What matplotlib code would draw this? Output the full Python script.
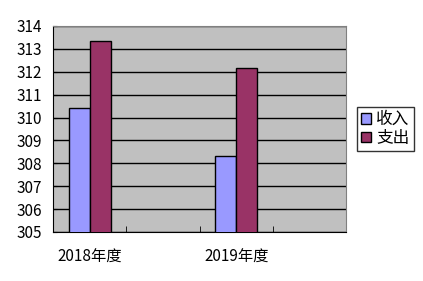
import numpy as np
import matplotlib
matplotlib.use("Agg")
import matplotlib.pyplot as plt

plt.rcParams['font.family'] = ['Noto Sans CJK SC', 'DejaVu Sans']

# Data
#-----------------------------------
categories = ['2018年度', '', '2019年度', '']
series_names = ['收入', '支出']
income = [310.4, np.nan, 308.3, np.nan]
expense = [313.33, np.nan, 312.17, np.nan]
colors = ['#9999FF', '#993366']
y_ticks = list(range(305, 315))

fig = plt.figure(figsize=(4.23, 2.81), dpi=100)
ax = fig.add_axes([53/423, 1-232/281, (346-53)/423, (232-26)/281])
ax.set_facecolor('#C0C0C0')

x = np.arange(len(categories))
w = 21/73.3
ax.bar(x - w/2, income, w, color=colors[0], edgecolor='black', linewidth=1, label=series_names[0], zorder=3)
ax.bar(x + w/2, expense, w, color=colors[1], edgecolor='black', linewidth=1, label=series_names[1], zorder=3)

ax.set_xlim(-0.5, len(categories) - 0.5)
ax.set_ylim(305, 314)
ax.set_yticks(y_ticks)
ax.set_yticklabels([str(v) for v in y_ticks], fontsize=11)
ax.yaxis.grid(True, color='black', linewidth=1, zorder=1)
ax.set_axisbelow(True)

ax.set_xticks(x)
ax.set_xticklabels(categories, fontsize=11)
ax.set_xticks(np.arange(-0.5, len(categories)), minor=True)
ax.tick_params(axis='x', which='major', length=0, pad=12)
ax.tick_params(axis='x', which='minor', length=4, direction='in', color='black')
ax.tick_params(axis='y', length=3, direction='in', pad=8)

for s in ['top', 'right']:
    ax.spines[s].set_color('#808080')
for s in ['left', 'bottom']:
    ax.spines[s].set_color('black')

leg = fig.legend(loc='center left', bbox_to_anchor=(357/423, 1-129/281),
                 fontsize=12, frameon=True, fancybox=False, edgecolor='black',
                 handlelength=0.6, handleheight=0.6, handletextpad=0.3,
                 borderpad=0.25, labelspacing=0.1, borderaxespad=0)
leg.get_frame().set_linewidth(1)

fig.savefig('out.png', dpi=100)
